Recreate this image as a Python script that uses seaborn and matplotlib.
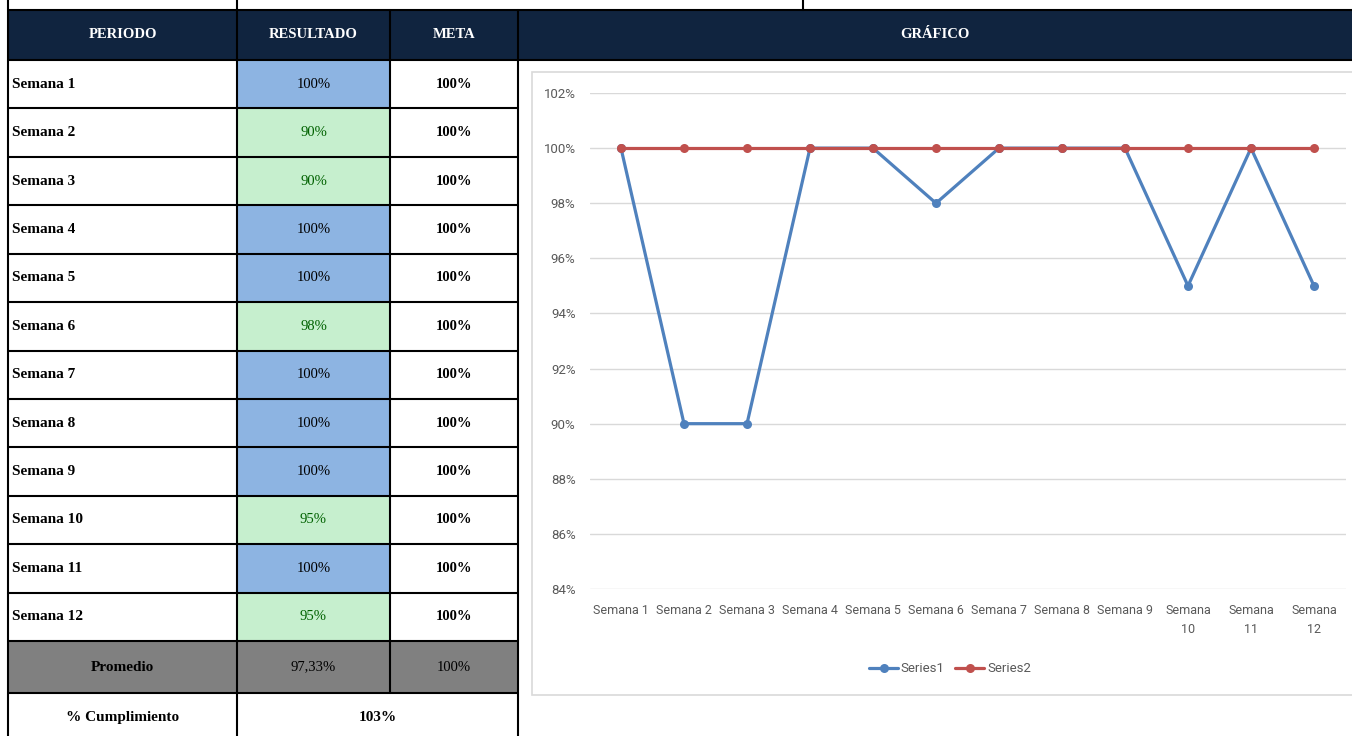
import matplotlib
matplotlib.use("Agg")
import matplotlib.pyplot as plt
import seaborn as sns
import pandas as pd
from matplotlib import font_manager
from matplotlib.patches import Rectangle
from matplotlib.lines import Line2D

# ---- data ----
semanas = ["Semana 1", "Semana 2", "Semana 3", "Semana 4", "Semana 5", "Semana 6",
           "Semana 7", "Semana 8", "Semana 9", "Semana 10", "Semana 11", "Semana 12"]
resultado = [100, 90, 90, 100, 100, 98, 100, 100, 100, 95, 100, 95]
meta = [100, 100, 100, 100, 100, 100, 100, 100, 100, 100, 100, 100]
xtick_labels = ["Semana 1", "Semana 2", "Semana 3", "Semana 4", "Semana 5", "Semana 6",
                "Semana 7", "Semana 8", "Semana 9", "Semana\n10", "Semana\n11", "Semana\n12"]
yticks = [84, 86, 88, 90, 92, 94, 96, 98, 100, 102]

promedio_res = sum(resultado) / len(resultado)
promedio_meta = sum(meta) / len(meta)
cumplimiento = promedio_meta / promedio_res * 100

# ---- style ----
sns.set_theme(style="white")
names = {f.name for f in font_manager.fontManager.ttflist}
chart_font = "Roboto" if "Roboto" in names else "DejaVu Sans"
serif = "Liberation Serif"
plt.rcParams["font.family"] = [chart_font, "DejaVu Sans"]

NAVY = "#10243F"
BLUE_CELL = "#8DB4E2"
GREEN_CELL = "#C6EFCE"
GREEN_TXT = "#006100"
GRAY_CELL = "#808080"
S1 = "#4F81BD"
S2 = "#C0504D"
AXIS_TXT = "#595959"

W, H = 1352, 736
fig = plt.figure(figsize=(W / 100, H / 100), dpi=100)
bg = fig.add_axes([0, 0, 1, 1])
bg.set_xlim(0, W)
bg.set_ylim(H, 0)
bg.axis("off")

# ---- table layout ----
xL, xP, xR, xM, xEnd = 8, 237, 390, 518, W
row_top = 60
row_h = 48.42
row_y = [row_top + i * row_h for i in range(13)]
prom_bot = 693
lw = 1.5

# header band
bg.add_patch(Rectangle((xL, 10), xEnd - xL, 50, fc=NAVY, ec="none", zorder=1))
hdr_kw = dict(color="white", fontweight="bold", family=serif, fontsize=10.5,
              ha="center", va="center", zorder=5)
bg.text((xL + xP) / 2, 35, "PERIODO", **hdr_kw)
bg.text((xP + xR) / 2, 35, "RESULTADO", **hdr_kw)
bg.text((xR + xM) / 2, 35, "META", **hdr_kw)
bg.text((xM + xEnd) / 2, 35, "GRÁFICO", **hdr_kw)

# data rows
for i, (sem, r, m) in enumerate(zip(semanas, resultado, meta)):
    y0, y1 = row_y[i], row_y[i + 1]
    yc = (y0 + y1) / 2
    ok = r >= m
    bg.add_patch(Rectangle((xP, y0), xR - xP, y1 - y0,
                           fc=BLUE_CELL if ok else GREEN_CELL, ec="none", zorder=1))
    bg.text(xL + 4, yc, sem, family=serif, fontweight="bold", fontsize=11,
            ha="left", va="center", color="black", zorder=5)
    bg.text((xP + xR) / 2, yc, f"{r:.0f}%", family=serif, fontsize=10.5,
            ha="center", va="center", color="black" if ok else GREEN_TXT, zorder=5)
    bg.text((xR + xM) / 2, yc, f"{m:.0f}%", family=serif, fontweight="bold",
            fontsize=10.5, ha="center", va="center", color="black", zorder=5)

# average row
y0 = row_y[-1]
bg.add_patch(Rectangle((xL, y0), xM - xL, prom_bot - y0, fc=GRAY_CELL, ec="none", zorder=1))
yc = (y0 + prom_bot) / 2
bg.text((xL + xP) / 2, yc, "Promedio", family=serif, fontweight="bold", fontsize=11,
        ha="center", va="center", color="black", zorder=5)
bg.text((xP + xR) / 2, yc, f"{promedio_res:.2f}%".replace(".", ","), family=serif,
        fontsize=10.5, ha="center", va="center", color="black", zorder=5)
bg.text((xR + xM) / 2, yc, f"{promedio_meta:.0f}%", family=serif, fontsize=10.5,
        ha="center", va="center", color="black", zorder=5)

# compliance row
yc = (prom_bot + H) / 2 + 3
bg.text((xL + xP) / 2, yc, "% Cumplimiento", family=serif, fontweight="bold",
        fontsize=11, ha="center", va="center", color="black", zorder=5)
bg.text((xP + xM) / 2, yc, f"{cumplimiento:.0f}%", family=serif, fontweight="bold",
        fontsize=11, ha="center", va="center", color="black", zorder=5)

# grid lines of the table
def hline(y, x0, x1):
    bg.add_line(Line2D([x0, x1], [y, y], color="black", lw=lw, zorder=4))

def vline(x, y0, y1):
    bg.add_line(Line2D([x, x], [y0, y1], color="black", lw=lw, zorder=4))

hline(10, xL, xEnd)
hline(60, xL, xEnd)
for y in row_y[1:]:
    hline(y, xL, xM)
hline(prom_bot, xL, xM)
vline(xL, 0, H)
vline(xP, 0, 10)
vline(803, 0, 10)
vline(xP, 10, H)
vline(xR, 10, prom_bot)
vline(xM, 10, H)

# chart frame
bg.add_patch(Rectangle((532, 72), 830, 623, fc="white", ec="#D9D9D9", lw=1.2, zorder=2))

# ---- line chart ----
ax_l, ax_r = 589.5, 1345.5
ax_t, ax_b = 93, 589
ax = fig.add_axes([ax_l / W, 1 - ax_b / H, (ax_r - ax_l) / W, (ax_b - ax_t) / H])
ax.set_zorder(3)
ax.patch.set_alpha(0)

df = pd.DataFrame({
    "Semana": semanas * 2,
    "Valor": resultado + meta,
    "Serie": ["Series1"] * len(semanas) + ["Series2"] * len(semanas),
})
sns.lineplot(data=df, x="Semana", y="Valor", hue="Serie", palette={"Series1": S1, "Series2": S2},
             marker="o", markersize=6.5, markeredgewidth=0, linewidth=2.3, sort=False,
             legend=False, ax=ax)

ax.set_xlim(-0.5, len(semanas) - 0.5)
ax.set_ylim(84, 102)
ax.set_yticks(yticks)
ax.set_yticklabels([f"{v}%" for v in yticks])
ax.set_xticks(range(len(semanas)))
ax.set_xticklabels(xtick_labels, linespacing=1.55)
ax.set_xlabel("")
ax.set_ylabel("")
for s in ax.spines.values():
    s.set_visible(False)
ax.grid(axis="y", color="#D9D9D9", lw=1)
ax.grid(axis="x", visible=False)
ax.set_axisbelow(True)
ax.tick_params(axis="y", length=0, pad=10, labelsize=9.5, labelcolor=AXIS_TXT)
ax.tick_params(axis="x", length=0, pad=11, labelsize=9, labelcolor=AXIS_TXT)
for t in ax.get_xticklabels():
    t.set_verticalalignment("top")

handles = [Line2D([], [], color=S1, lw=2.3, marker="o", markersize=6.5, markeredgewidth=0),
           Line2D([], [], color=S2, lw=2.3, marker="o", markersize=6.5, markeredgewidth=0)]
leg = fig.legend(handles, ["Series1", "Series2"], loc="center", ncol=2, frameon=False,
                 bbox_to_anchor=(950 / W, 1 - 669 / H), fontsize=9.5, handlelength=2.2,
                 handletextpad=0.2, columnspacing=0.8, labelcolor=AXIS_TXT)

fig.savefig("out.png", dpi=100)
